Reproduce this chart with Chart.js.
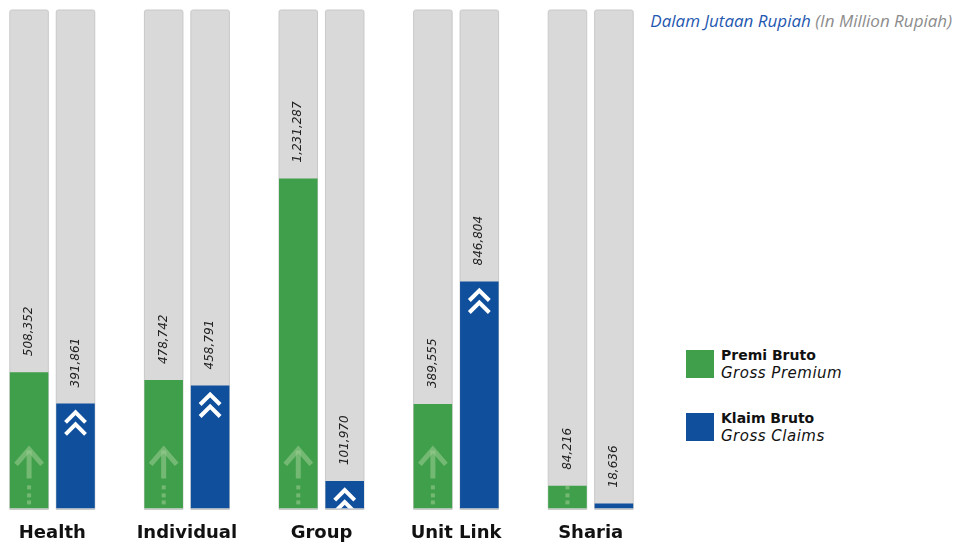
<!DOCTYPE html>
<html lang="en">
<head>
    <meta charset="UTF-8">
    <title>Premi dan Klaim Bruto</title>
    <script src="https://cdn.jsdelivr.net/npm/chart.js"></script>
    <style>
        body {
            margin: 0;
            background: #fff;
            width: 956px;
            height: 542px;
            position: relative;
            overflow: hidden;
            font-family: "DejaVu Sans", sans-serif;
        }

        #chartBox {
            position: absolute;
            left: -15px;
            top: 0;
            width: 673px;
            height: 558px;
        }

        .unit-note {
            position: absolute;
            right: 4px;
            top: 9px;
            font-family: "Open Sans", sans-serif;
            font-style: italic;
            font-size: 17px;
        }
        .unit-note .id { color: #1f58b0; }
        .unit-note .en { color: #8c8c8c; }

        .legend-item {
            position: absolute;
            left: 686px;
        }
        .legend-item .swatch {
            position: absolute;
            left: 0;
            top: 0;
            width: 28px;
            height: 28px;
        }
        .legend-item .txt {
            position: absolute;
            left: 35px;
            top: -4px;
            white-space: nowrap;
            color: #111;
            font-size: 14px;
            line-height: 18px;
        }
        .legend-item b { font-weight: bold; }
        .legend-item i { font-style: italic; font-size: 15px; letter-spacing: 0.5px; }
    </style>
</head>
<body>
    <div class="unit-note"><span class="id">Dalam Jutaan Rupiah</span> <span class="en">(In Million Rupiah)</span></div>

    <div class="legend-item" style="top: 350px;">
        <div class="swatch" style="background: #3f9f4a;"></div>
        <div class="txt"><b>Premi Bruto</b><br><i>Gross Premium</i></div>
    </div>
    <div class="legend-item" style="top: 413px;">
        <div class="swatch" style="background: #0f4f9c;"></div>
        <div class="txt"><b>Klaim Bruto</b><br><i>Gross Claims</i></div>
    </div>

    <div id="chartBox"><canvas id="chart"></canvas></div>

    <script>
        // values in million rupiah
        var categories = ['Health', 'Individual', 'Group', 'Unit Link', 'Sharia'];
        var premiBruto = [508352, 478742, 1231287, 389555, 84216];
        var klaimBruto = [391861, 458791, 101970, 846804, 18636];
        var axisMax = 1860000;

        var GREEN = '#3f9f4a';
        var BLUE = '#0f4f9c';

        // gray full-height track behind every bar
        var trackPlugin = {
            id: 'tracks',
            beforeDatasetsDraw: function (chart) {
                var ctx = chart.ctx;
                var area = chart.chartArea;
                ctx.save();
                chart.data.datasets.forEach(function (ds, i) {
                    chart.getDatasetMeta(i).data.forEach(function (bar) {
                        var x = bar.x - bar.width / 2;
                        ctx.fillStyle = '#d9d9d9';
                        ctx.strokeStyle = '#c9c9c9';
                        ctx.lineWidth = 1;
                        ctx.beginPath();
                        ctx.roundRect(x, area.top, bar.width, area.bottom - area.top + 1, [2, 2, 0, 0]);
                        ctx.fill();
                        ctx.stroke();
                    });
                });
                ctx.restore();
            }
        };

        function drawArrow(ctx, bar, bottom) {
            var cx = bar.x;
            ctx.strokeStyle = 'rgba(160, 205, 150, 0.55)';
            ctx.fillStyle = 'rgba(160, 205, 150, 0.55)';
            ctx.lineWidth = 5;
            ctx.lineCap = 'butt';
            ctx.beginPath();
            ctx.moveTo(cx, bottom - 58);
            ctx.lineTo(cx, bottom - 30);
            ctx.stroke();
            ctx.beginPath();
            ctx.moveTo(cx - 13, bottom - 44);
            ctx.lineTo(cx, bottom - 59);
            ctx.lineTo(cx + 13, bottom - 44);
            ctx.stroke();
            [21, 13, 6].forEach(function (d) {
                ctx.fillRect(cx - 2, bottom - d - 2, 4, 4);
            });
        }

        function drawChevrons(ctx, bar) {
            var cx = bar.x;
            var top = bar.y;
            ctx.strokeStyle = '#ffffff';
            ctx.lineWidth = 4;
            ctx.lineJoin = 'miter';
            [9, 21].forEach(function (d) {
                ctx.beginPath();
                ctx.moveTo(cx - 10, top + d + 10);
                ctx.lineTo(cx, top + d);
                ctx.lineTo(cx + 10, top + d + 10);
                ctx.stroke();
            });
        }

        // icons inside the bars and rotated value labels above them
        var decorPlugin = {
            id: 'decor',
            afterDatasetsDraw: function (chart) {
                var ctx = chart.ctx;
                chart.data.datasets.forEach(function (ds, i) {
                    chart.getDatasetMeta(i).data.forEach(function (bar, j) {
                        var left = bar.x - bar.width / 2;
                        ctx.save();
                        ctx.beginPath();
                        ctx.rect(left, bar.y, bar.width, bar.base - bar.y);
                        ctx.clip();
                        if (i === 0) {
                            drawArrow(ctx, bar, bar.base);
                        } else {
                            drawChevrons(ctx, bar);
                        }
                        ctx.restore();

                        ctx.save();
                        ctx.translate(bar.x, bar.y - 16);
                        ctx.rotate(-Math.PI / 2);
                        ctx.font = 'italic 12px "DejaVu Sans"';
                        ctx.fillStyle = '#222';
                        ctx.textAlign = 'left';
                        ctx.textBaseline = 'middle';
                        ctx.fillText(ds.data[j].toLocaleString('en-US'), 0, 0);
                        ctx.restore();
                    });
                });
            }
        };

        var ctx = document.getElementById('chart').getContext('2d');
        var chart = new Chart(ctx, {
            type: 'bar',
            data: {
                labels: categories,
                datasets: [{
                    label: 'Premi Bruto',
                    data: premiBruto,
                    backgroundColor: GREEN,
                    borderWidth: 0
                }, {
                    label: 'Klaim Bruto',
                    data: klaimBruto,
                    backgroundColor: BLUE,
                    borderWidth: 0
                }]
            },
            options: {
                responsive: true,
                maintainAspectRatio: false,
                animation: false,
                categoryPercentage: 0.69,
                barPercentage: 0.83,
                layout: {
                    padding: { top: 10, left: 0, right: 0, bottom: 0 }
                },
                plugins: {
                    legend: { display: false },
                    tooltip: { enabled: false }
                },
                scales: {
                    x: {
                        grid: { display: false, drawTicks: false },
                        border: { display: false },
                        ticks: {
                            color: '#111',
                            padding: 14,
                            font: { family: 'DejaVu Sans', size: 18, weight: 'bold' }
                        }
                    },
                    y: {
                        display: false,
                        min: 0,
                        max: axisMax
                    }
                }
            },
            plugins: [trackPlugin, decorPlugin]
        });
    </script>
</body>
</html>
